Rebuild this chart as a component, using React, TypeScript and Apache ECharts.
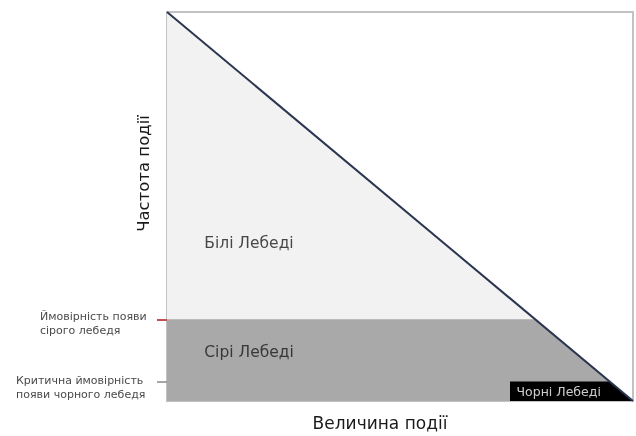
import React, { useEffect, useRef } from "react";
import * as echarts from "echarts";

// Frequency vs magnitude of an event (descending line)
const eventCurve: [number, number][] = [
  [0, 100],
  [100, 0],
];
// Thresholds on the frequency axis
const greyThreshold = 21; // probability of a grey swan
const blackThreshold = 5; // critical probability of a black swan
const blackBandStart = 73.6; // magnitude where the black label band begins

const thresholdLines: Record<string, string[]> = {
  grey: ["Ймовірність появи", "сірого лебедя"],
  black: ["Критична ймовірність", "появи чорного лебедя"],
};
const regionNames = ["Білі Лебеді", "Сірі Лебеді", "Чорні Лебеді"];
// anchor of each region label, in (magnitude, frequency) units
const regionAnchorX = [8, 8, 75];
const regionAnchorY = [40.6, 12.5, 2.5];
const axisNames = { x: "Величина події", y: "Частота події" };

const lineAt = (y: number) => 100 - y; // x on the curve for a given frequency

export default function App() {
  const ref = useRef<HTMLDivElement>(null);
  useEffect(() => {
    if (!ref.current) return;
    const chart = echarts.init(ref.current, null, { renderer: "svg" });
    const font = "DejaVu Sans";
    const greyArea = [
      [0, greyThreshold],
      [lineAt(greyThreshold), greyThreshold],
      eventCurve[1],
    ];
    const blackArea = [
      [blackBandStart, blackThreshold],
      [lineAt(blackThreshold), blackThreshold],
      eventCurve[1],
    ];
    const labelData = regionNames.map((n, i) => ({
      name: n,
      value: [regionAnchorX[i], regionAnchorY[i]],
      label:
        i === 2
          ? { fontSize: 12.5, color: "#ffffff" }
          : { fontSize: 15.5, color: "#1a1a1a" },
    }));
    const rich = (spacer: number) => ({
      s: { lineHeight: spacer, fontSize: 1 },
      t: { lineHeight: 14, fontSize: 11, color: "#4a4a4a", fontFamily: font },
    });
    const fmt = (lines: string[]) => "{s|}\n" + lines.map((l) => `{t|${l}}`).join("\n");
    chart.setOption({
      animation: false,
      grid: {
        left: 167,
        right: 3,
        top: 12,
        bottom: 30,
        show: true,
        borderColor: "#c2c2c2",
        borderWidth: 2,
        backgroundColor: "#ffffff",
      },
      xAxis: {
        type: "value",
        min: 0,
        max: 100,
        axisLine: { show: false },
        axisTick: { show: false },
        axisLabel: { show: false },
        splitLine: { show: false },
        name: axisNames.x,
        nameLocation: "middle",
        nameGap: 13,
        nameMoveOverlap: false,
        nameTextStyle: {
          fontSize: 17,
          color: "#1a1a1a",
          fontFamily: font,
          verticalAlign: "top",
          padding: [0, 40, 0, 0],
        },
      },
      yAxis: [
        {
          type: "value",
          position: "left",
          min: 0,
          max: 100,
          axisLine: { show: false },
          splitLine: { show: false },
          name: axisNames.y,
          nameLocation: "middle",
          nameGap: 15,
          nameMoveOverlap: false,
          nameTextStyle: { fontSize: 16.5, color: "#1a1a1a", fontFamily: font, padding: [0, 0, 0, 66] },
          axisTick: {
            show: true,
            customValues: [greyThreshold],
            length: 10,
            lineStyle: { color: "#c0504d", width: 2 },
          },
          axisLabel: {
            customValues: [greyThreshold],
            formatter: () => fmt(thresholdLines.grey),
            align: "left",
            margin: 127,
            rich: rich(8),
          },
        },
        {
          type: "value",
          position: "left",
          min: 0,
          max: 100,
          axisLine: { show: false },
          splitLine: { show: false },
          axisTick: {
            show: true,
            customValues: [blackThreshold],
            length: 10,
            lineStyle: { color: "#8a8a8a", width: 1.5 },
          },
          axisLabel: {
            customValues: [blackThreshold],
            formatter: () => fmt(thresholdLines.black),
            align: "left",
            margin: 151,
            rich: rich(12),
          },
        },
      ],
      series: [
        {
          type: "line",
          data: eventCurve,
          symbol: "none",
          lineStyle: { width: 0 },
          areaStyle: { color: "#f2f2f2", opacity: 1 },
        },
        {
          type: "line",
          data: greyArea,
          symbol: "none",
          lineStyle: { width: 0 },
          areaStyle: { color: "#a9a9a9", opacity: 1 },
        },
        {
          type: "line",
          data: blackArea,
          symbol: "none",
          lineStyle: { width: 0 },
          areaStyle: { color: "#000000", opacity: 1 },
        },
        {
          type: "line",
          data: eventCurve,
          symbol: "none",
          lineStyle: { color: "#2b3550", width: 2 },
        },
        {
          type: "scatter",
          data: labelData,
          symbolSize: 0,
          silent: true,
          z: 10,
          label: {
            show: true,
            position: "right",
            distance: 0,
            formatter: "{b}",
            fontFamily: font,
          },
        },
      ],
    });
    return () => chart.dispose();
  }, []);
  return <div ref={ref} style={{ width: 636, height: 436, position: "fixed", left: 0, top: 0 }} />;
}
